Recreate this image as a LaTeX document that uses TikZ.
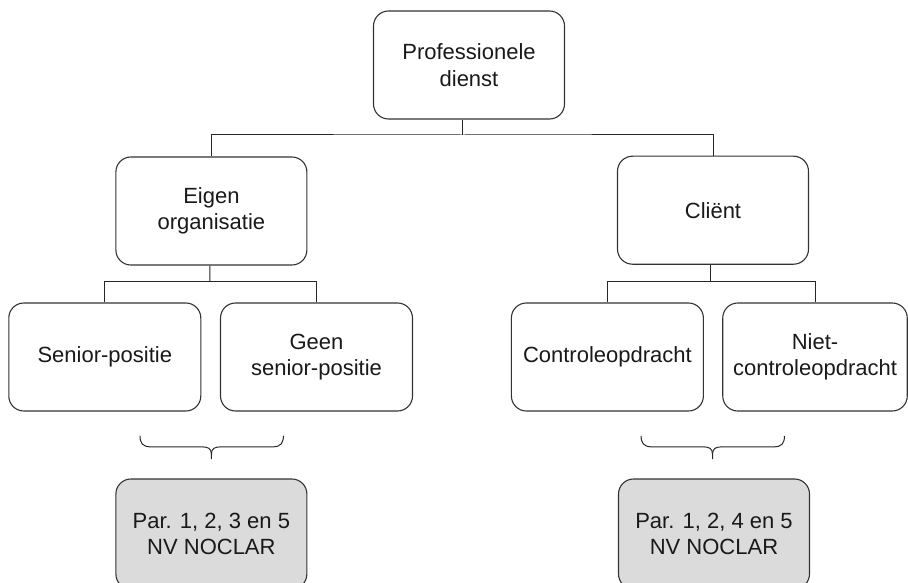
\documentclass[tikz,border=0pt]{standalone}
\usepackage{fontspec}
\setmainfont{Liberation Sans}
\begin{document}
\begin{tikzpicture}[x=1pt,y=-1pt,
  box/.style={draw=black!80, line width=1.1pt, rounded corners=15pt, align=center,
    minimum width=191pt, minimum height=108pt, inner sep=0pt, text=black!90,
    font=\fontsize{22}{26.5}\selectfont},
  greybox/.style={box, fill=black!14, minimum height=110pt},
  conn/.style={draw=black!85, line width=1pt},
  bracepic/.pic={
    \draw[conn] (-71.4,-23.3) .. controls (-71.4,-16) and (-68.7,-12.3) .. (-60.7,-12.3)
      -- (-9.7,-12.3) .. controls (-3.7,-12.3) and (0,-11) .. (0,-5) -- (0,0);
    \draw[conn] (72,-23.3) .. controls (72,-16) and (69.3,-12.3) .. (61.3,-12.3)
      -- (9.7,-12.3) .. controls (3.7,-12.3) and (0,-11) .. (0,-5);
  }]
\useasboundingbox (0,0) rectangle (908,583);
\clip (0,0) rectangle (908,583);

\node[box] (top) at (469,65) {Professionele\\dienst};
\node[box] (eig) at (211.4,211) {Eigen\\organisatie};
\node[box] (cli) at (713,210.2) {Cliënt};
\node[box, minimum width=192pt] (sen) at (104.8,357) {Senior-positie};
\node[box, minimum width=192pt] (geen) at (316.5,357) {Geen\\senior-positie};
\node[box, minimum width=192pt] (con) at (607.4,357) {Controleopdracht};
\node[box, minimum width=184.5pt] (niet) at (815,357) {Niet-\\controleopdracht};
\node[greybox] (g1) at (211.4,534) {Par. 1, 2, 3 en 5\\NV NOCLAR};
\node[greybox] (g2) at (714,534) {Par. 1, 2, 4 en 5\\NV NOCLAR};

\coordinate (j1) at (462.7,135);
\draw[conn] ([xshift=-6.3pt]top.south) -- (j1);
\draw[conn] (eig.north) |- (j1) -| (cli.north);

\coordinate (j2) at (209.8,281.7);
\draw[conn] ([xshift=-1.6pt]eig.south) -- (j2);
\draw[conn] (sen.north) |- (j2) -| (geen.north);

\coordinate (j3) at (710.5,281.7);
\draw[conn] ([xshift=-2.5pt]cli.south) -- (j3);
\draw[conn] (con.north) |- (j3) -| (niet.north);

\pic at ([yshift=19.3pt]g1.north) {bracepic};
\pic at ([yshift=19.3pt,xshift=-1.5pt]g2.north) {bracepic};
\end{tikzpicture}
\end{document}
